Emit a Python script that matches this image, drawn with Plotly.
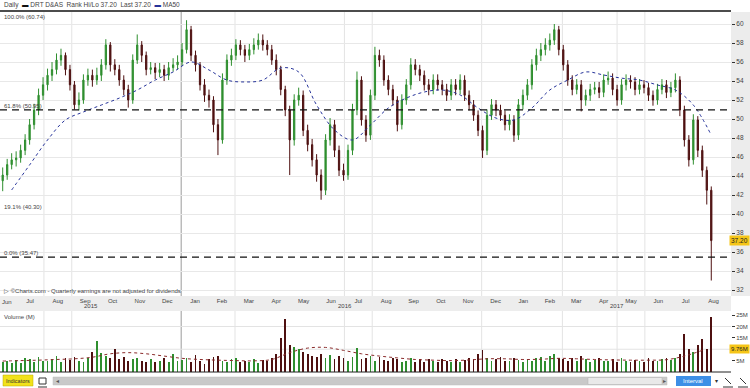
import plotly.graph_objects as go
import pandas as pd

# ---------------- data ----------------
close = [44.1,45.2,45.7,45.9,46.7,47.8,49.4,50.95,52.5,53.6,
54.6,55.2,56.2,56.7,55.2,53.6,51.5,52.0,54.1,54.6,
54.1,54.6,55.7,57.8,55.7,55.2,54.1,53.1,52.0,56.2,
57.8,56.7,55.2,55.4,54.9,55.2,54.6,55.4,55.7,56.0,
57.3,59.4,56.7,55.7,53.6,52.5,52.0,49.4,47.8,54.1,
56.2,56.7,57.8,57.3,56.7,57.3,57.8,58.3,57.8,57.3,
56.2,55.2,53.1,50.95,47.8,52.0,52.5,48.8,47.3,45.7,
44.1,42.5,47.8,49.4,46.7,44.6,44.1,46.7,50.95,54.1,
49.9,48.3,52.5,56.7,56.2,54.1,53.1,52.0,49.4,52.0,
53.6,55.7,55.2,54.6,53.6,53.1,54.1,53.6,53.1,52.5,
53.6,53.1,54.1,52.5,51.5,50.4,48.8,46.7,50.4,51.5,
50.95,50.4,49.4,49.9,48.3,51.5,52.5,53.6,55.7,56.7,
57.3,57.8,58.3,59.4,57.3,55.7,54.1,53.1,53.6,52.0,
52.5,53.1,53.3,52.8,54.1,54.3,53.1,52.0,53.6,54.1,
53.9,53.1,53.6,53.3,52.5,52.0,53.1,53.6,52.8,53.3,
54.1,50.95,47.8,45.7,49.9,46.7,44.6,42.5,37.2]

open_ = [43.5,44.1,45.2,45.7,45.9,46.7,47.8,49.4,50.95,52.5,
53.6,54.6,55.2,56.2,56.7,55.2,53.6,51.5,52.0,54.1,
54.6,54.1,54.6,55.7,57.8,55.7,55.2,54.1,53.1,52.0,
56.2,57.8,56.7,55.2,55.4,54.9,55.2,54.6,55.4,55.7,
56.0,57.3,59.4,56.7,55.7,53.6,52.5,52.0,49.4,47.8,
54.1,56.2,56.7,57.8,57.3,56.7,57.3,57.8,58.3,57.8,
57.3,56.2,55.2,53.1,50.95,47.8,52.0,52.5,48.8,47.3,
45.7,44.1,42.5,47.8,49.4,46.7,44.6,44.1,46.7,50.95,
54.1,49.9,48.3,52.5,56.7,56.2,54.1,53.1,52.0,49.4,
52.0,53.6,55.7,55.2,54.6,53.6,53.1,54.1,53.6,53.1,
52.5,53.6,53.1,54.1,52.5,51.5,50.4,48.8,46.7,50.4,
51.5,50.95,50.4,49.4,49.9,48.3,51.5,52.5,53.6,55.7,
56.7,57.3,57.8,58.3,59.4,57.3,55.7,54.1,53.1,53.6,
52.0,52.5,53.1,53.3,52.8,54.1,54.3,53.1,52.0,53.6,
54.1,53.9,53.1,53.6,53.3,52.5,52.0,53.1,53.6,52.8,
53.3,54.1,50.95,47.8,45.7,49.9,46.7,44.6,42.5]

high = [44.9,45.8,46.4,46.6,47.3,48.4,50.0,51.6,53.2,54.4,
55.3,56.0,56.9,57.4,57.0,55.7,54.0,52.8,54.7,55.3,
55.2,55.4,56.3,58.4,58.1,56.3,55.7,54.6,53.6,56.8,
58.9,58.2,57.1,56.0,55.9,55.9,55.7,56.0,56.4,56.7,
58.0,60.4,59.8,57.2,56.0,54.2,53.1,52.4,50.0,54.8,
56.8,57.4,58.4,58.3,57.8,57.9,58.5,59.0,58.9,58.3,
57.8,56.8,55.6,53.5,51.4,52.6,53.3,53.0,49.4,47.9,
46.3,44.7,48.4,50.1,49.9,47.2,45.3,47.3,51.6,55.0,
54.5,50.4,53.1,57.6,57.3,56.7,54.6,53.6,52.4,52.6,
54.2,56.4,56.3,55.7,55.1,54.2,54.7,54.7,54.1,53.7,
54.2,54.2,54.7,54.6,53.0,52.0,50.9,49.3,51.0,52.1,
52.0,51.5,50.9,50.5,50.4,52.1,53.1,54.2,56.3,57.4,
58.0,58.5,59.0,60.0,59.8,57.8,56.2,54.6,54.2,54.1,
53.1,53.7,53.9,53.9,54.7,55.0,54.8,53.6,54.2,54.7,
54.6,54.4,54.2,54.1,53.8,53.0,53.7,54.2,54.1,53.9,
54.8,54.5,51.4,48.3,50.5,50.3,47.2,45.0,42.9]

low = [42.4,43.6,44.7,45.0,45.4,46.2,47.3,48.9,50.4,52.0,
53.0,54.0,54.7,55.6,54.6,53.0,51.0,50.9,51.6,53.5,
53.4,53.6,54.0,55.2,55.0,54.6,53.5,52.5,51.2,51.6,
55.8,56.0,54.6,54.7,54.2,54.4,54.0,54.1,55.0,55.2,
55.6,56.9,56.1,55.0,53.0,51.8,51.2,48.6,46.2,47.4,
53.6,55.6,56.2,56.7,56.0,56.2,56.8,57.3,57.2,56.7,
55.7,54.6,52.5,50.3,44.1,47.2,51.4,48.2,46.6,45.0,
43.4,41.5,42.0,47.2,46.0,44.0,43.5,43.6,46.2,50.4,
49.3,47.6,47.8,52.0,55.5,53.5,52.5,51.4,48.7,48.9,
51.5,53.1,54.6,54.0,53.0,52.5,52.6,53.0,52.5,51.9,
52.0,52.5,52.6,51.9,50.9,49.8,48.2,45.9,46.2,49.9,
50.3,49.8,48.8,48.8,47.6,47.8,51.0,52.0,53.1,55.1,
56.1,56.7,57.2,57.8,56.7,55.1,53.5,52.5,52.6,50.8,
51.4,51.9,52.6,52.2,52.3,53.6,52.5,51.4,51.5,53.0,
53.2,52.5,52.6,52.7,51.9,51.4,51.5,52.6,52.2,52.3,
52.8,50.3,47.1,45.0,45.2,46.0,43.9,41.0,33.0]

volume = [4.5,5,3.8,5.2,4,6,5.5,4.2,6.5,5,
4.8,5.5,7,4.5,6,5.2,6.8,5,4.4,6.2,
9,13.8,8.5,7,6,10,5.5,6.5,4.8,5.6,
6,5,4.2,5.8,4.6,5,6.1,4.4,8,4.8,
5.2,6,4.5,7.5,5,3.5,5.5,6.5,7,5,
4.5,5.5,6,4.2,5,4.6,5.8,4,5.2,4.8,
6,8,15,23.5,12,11,10,9,8,7,
6.5,8,6,7.5,5.5,7,6,5,6.5,10.7,
5.5,6,7,5,6.5,5.2,4.8,6,5.5,4.5,
5,6,4.6,5.5,4.4,5.8,5,4.2,5.5,4.8,
4.5,5.6,4.4,5.2,6,5.5,8,9.5,6,5,
5.5,6.5,4.8,5,6,5.2,4.6,5.8,5,6,
6.5,5,7,8,6,5.5,5,6.2,5,7,
5.5,4.6,5.2,6,4.8,5,5.6,4.4,6,5,
4.6,5.4,5,4.4,6,5,4.8,5.5,6,5.2,
6,8,16.5,10,9,12,14.7,10,24]

ma50 = [42.53,45.16,47.79,49.9,50.74,51.47,52.2,53.05,54.1,54.95,
56.0,55.16,54.1,53.9,54.1,55.37,54.95,51.47,48.84,47.79,
49.37,51.16,52.2,52.84,53.05,52.53,51.16,50.1,49.9,51.16,
53.05,54.1,54.95,54.63,54.3,54.1,53.58,53.05,51.47,48.3]

vol_ma = [4.8,5.0,5.2,5.5,5.8,6.5,8.0,8.5,8.0,7.0,
6.0,5.5,5.2,5.0,4.9,5.5,8.5,10.5,10.8,9.5,
8.0,7.0,6.2,5.5,5.2,5.0,5.3,5.8,5.8,5.5,
5.6,6.0,5.8,5.5,5.3,5.2,5.2,5.4,7.0,9.5]

price_ticks = [32,34,36,38,40,42,44,46,48,50,52,54,56,58,60]
vol_ticks = [5, 15, 20, 25]
vol_tick_text = ["5M", "15M", "20M", "25M"]
years = ["2015", "2016", "2017"]
year_centers = ["2015-09-23", "2016-07-02", "2017-05-01"]
first_month_label = "Jun"
level_values = [60.74, 50.95, 40.30, 35.47]
level_texts = ["100.0% (60.74)", "61.8% (50.95)", "19.1% (40.30)", "0.0% (35.47)"]
last_price = 37.20
last_volume_label = "9.76M"

dates = pd.date_range("2015-06-16", periods=len(close), freq="5D")

# ---------------- styling ----------------
W, H = 750, 388
def PX(x): return x / W
def PY(y): return 1 - y / H

GREEN = "#2f8f2f"
RED = "#4e1010"
FONT = "Liberation Sans"
XR = 731
main_dom = [PY(296), PY(12)]
vol_dom = [PY(372), PY(311)]
price_range = [31.368, 61.263]
x_range = ["2015-06-13", "2017-09-05"]

fig = go.Figure()
fig.add_trace(go.Candlestick(
    x=dates, open=open_, high=high, low=low, close=close,
    increasing=dict(line=dict(color=GREEN, width=1), fillcolor=GREEN),
    decreasing=dict(line=dict(color=RED, width=1), fillcolor=RED),
    whiskerwidth=0, showlegend=False, hoverinfo="skip", xaxis="x", yaxis="y"))
fig.add_trace(go.Scatter(
    x=dates[2::4], y=ma50, mode="lines", line=dict(color="#26339a", width=1, dash="dot", shape="spline"),
    showlegend=False, hoverinfo="skip", xaxis="x", yaxis="y"))

vcolors = [GREEN if c >= o else RED for o, c in zip(open_, close)]
fig.add_trace(go.Bar(
    x=dates, y=volume, marker=dict(color=vcolors, line=dict(width=0)),
    width=2 * 86400000, showlegend=False, hoverinfo="skip", xaxis="x2", yaxis="y2"))
fig.add_trace(go.Scatter(
    x=dates[0::4], y=vol_ma, mode="lines", line=dict(color="#8a2a2a", width=1, dash="dot", shape="spline"),
    showlegend=False, hoverinfo="skip", xaxis="x2", yaxis="y2"))

shapes = []
shapes.append(dict(type="rect", xref="paper", yref="paper", x0=PX(XR), x1=1, y0=PY(296), y1=PY(12),
                   fillcolor="#ececec", line=dict(width=0), layer="below"))
shapes.append(dict(type="rect", xref="paper", yref="paper", x0=0, x1=PX(XR), y0=PY(311), y1=PY(296),
                   fillcolor="#ededed", line=dict(width=0), layer="below"))
shapes.append(dict(type="line", xref="paper", yref="paper", x0=0, x1=PX(XR), y0=PY(11), y1=PY(11),
                   line=dict(color="#111", width=1.5)))
grid_dates = ["2015-08-01", "2015-09-01", "2016-03-01", "2016-07-01", "2016-08-01",
              "2016-12-01", "2017-03-01", "2017-05-01", "2017-06-01"]
for d in grid_dates + ["2016-01-01"]:
    col = "#9a9a9a" if d == "2016-01-01" else "#e3e3e3"
    for y0, y1 in [(296, 12), (372, 311)]:
        shapes.append(dict(type="line", xref="x", yref="paper", x0=d, x1=d, y0=PY(y0), y1=PY(y1),
                           line=dict(color=col, width=1), layer="below"))
for v in [level_values[1], level_values[3]]:
    shapes.append(dict(type="line", xref="paper", yref="y", x0=0, x1=PX(XR), y0=v, y1=v,
                       line=dict(color="#111", width=1.2, dash="7px,5px")))
for v in [10, 20]:
    shapes.append(dict(type="line", xref="paper", yref="y2", x0=0, x1=PX(XR), y0=v, y1=v,
                       line=dict(color="#e3e3e3", width=1), layer="below"))
shapes.append(dict(type="line", xref="paper", yref="paper", x0=0, x1=PX(XR), y0=PY(372), y1=PY(372),
                   line=dict(color="#222", width=1)))

# bottom controls
shapes.append(dict(type="rect", xref="paper", yref="paper", x0=PX(3), x1=PX(33), y0=PY(386), y1=PY(375),
                   fillcolor="#f2e21a", line=dict(color="#b8a800", width=0.5)))
shapes.append(dict(type="rect", xref="paper", yref="paper", x0=PX(39), x1=PX(46), y0=PY(384), y1=PY(378),
                   fillcolor="white", line=dict(color="#333", width=1)))
shapes.append(dict(type="line", xref="paper", yref="paper", x0=PX(38), x1=PX(47), y0=PY(387), y1=PY(387),
                   line=dict(color="#333", width=1)))
shapes.append(dict(type="rect", xref="paper", yref="paper", x0=PX(53), x1=PX(667), y0=PY(385), y1=PY(377),
                   fillcolor="#c9c9c9", line=dict(color="#bdbdbd", width=0.5)))
shapes.append(dict(type="rect", xref="paper", yref="paper", x0=PX(588), x1=PX(662), y0=PY(384.5), y1=PY(377.5),
                   fillcolor="#e9e9e9", line=dict(color="#b0b0b0", width=0.5)))
shapes.append(dict(type="rect", xref="paper", yref="paper", x0=PX(676), x1=PX(711), y0=PY(386), y1=PY(376),
                   fillcolor="#3d8fe6", line=dict(width=0)))
for x0 in [723, 738]:
    shapes.append(dict(type="line", xref="paper", yref="paper", x0=PX(x0 + 2), x1=PX(x0 + 8), y0=PY(378), y1=PY(384),
                       line=dict(color="#333", width=1)))
    shapes.append(dict(type="line", xref="paper", yref="paper", x0=PX(x0), x1=PX(x0 + 10), y0=PY(387), y1=PY(387),
                       line=dict(color="#333", width=1)))

ann = []
def txt(x, y, s, size=6.5, color="#444", xanchor="left", xref="paper", yref="paper", **kw):
    ann.append(dict(x=x, y=y, xref=xref, yref=yref, text=s, showarrow=False, xanchor=xanchor,
                    yanchor="middle", font=dict(family=FONT, size=size, color=color), **kw))

txt(PX(2), PY(5), "Daily  <span style='color:#111'>▬</span> DRT D&AS  Rank Hi/Lo 37.20  Last 37.20  "
    "<span style='color:#26339a'>▬</span> MA50")
label_y = [17, 106, 207, 253]
for t, yy in zip(level_texts, label_y):
    txt(PX(2), PY(yy), t, size=6)
txt(PX(2), PY(291), "▷ ©Charts.com - Quarterly earnings are not adjusted for dividends", size=6)
txt(PX(2), PY(317), "Volume (M)", size=6)
txt(PX(0), PY(302), first_month_label, size=6, xanchor="left")
for yr, xc in zip(years, year_centers):
    txt(xc, PY(306), yr, size=6, xanchor="center", xref="x")
txt(1, last_price, f"{last_price:.2f}", size=6.5, color="#222", xanchor="right", yref="y",
    bgcolor="#f5c518", borderpad=1)
txt(1, 10, last_volume_label, size=6, color="#222", xanchor="right", yref="y2",
    bgcolor="#f5c518", borderpad=1)
txt(PX(18), PY(380.5), "Indicators", size=5.5, color="#333", xanchor="center")
txt(PX(693), PY(381), "Interval", size=6, color="white", xanchor="center")
txt(PX(716), PY(381), "▾", size=6, color="#333", xanchor="center")
txt(PX(57), PY(381), "◂", size=6, color="#555", xanchor="center")
txt(PX(664), PY(381), "▸", size=6, color="#555", xanchor="center")

fig.update_layout(
    width=W, height=H, margin=dict(l=0, r=0, t=0, b=0),
    paper_bgcolor="white", plot_bgcolor="white",
    font=dict(family=FONT, size=6.5, color="#444"),
    showlegend=False, hovermode=False, bargap=0, boxgap=0.6,
    xaxis=dict(domain=[0, PX(XR)], anchor="y", type="date", range=x_range,
               rangeslider=dict(visible=False), showgrid=False, zeroline=False,
               dtick="M1", tick0="2015-06-01", tickformat="%b", ticklabelmode="period",
               ticks="", tickfont=dict(size=6, color="#444"), showline=False),
    xaxis2=dict(domain=[0, PX(XR)], anchor="y2", type="date", range=x_range, matches="x",
                showticklabels=False, showgrid=False, zeroline=False, rangeslider=dict(visible=False)),
    yaxis=dict(domain=main_dom, range=price_range, side="right", tickvals=price_ticks,
               ticks="outside", ticklen=3, tickcolor="#333", tickfont=dict(size=6.5, color="#444"),
               showgrid=True, gridcolor="#e8e8e8", zeroline=False, showline=False),
    yaxis2=dict(domain=vol_dom, range=[0, 26.8], side="right", tickvals=vol_ticks, ticktext=vol_tick_text,
                ticks="outside", ticklen=3, tickcolor="#333", tickfont=dict(size=6, color="#444"),
                showgrid=False, zeroline=False, showline=False),
    shapes=shapes, annotations=ann,
)

fig.write_html("out.html", config=dict(displayModeBar=False, staticPlot=True),
               post_script="document.body.style.margin='0';document.body.style.overflow='hidden';")
